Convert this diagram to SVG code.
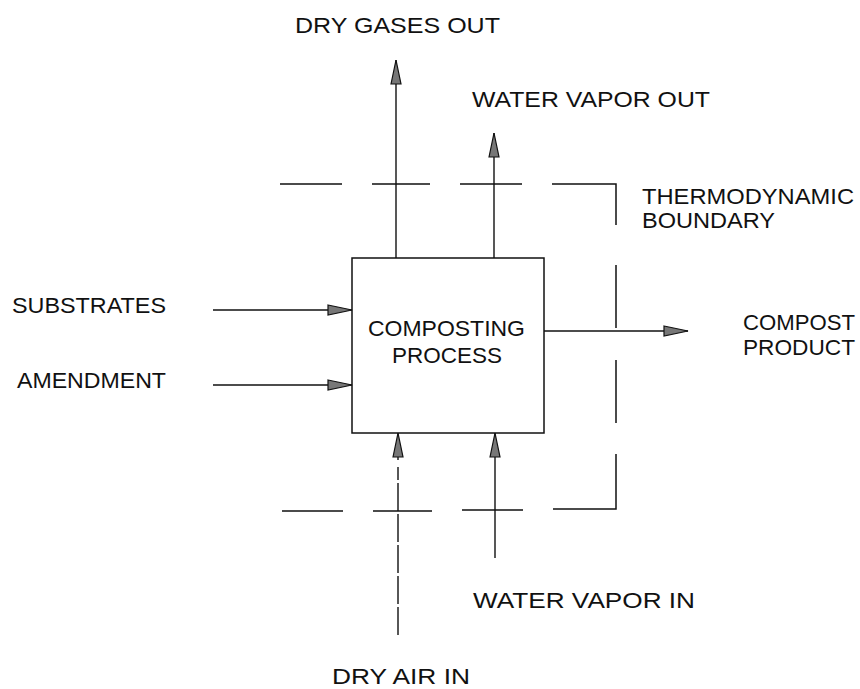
<svg xmlns="http://www.w3.org/2000/svg" width="860" height="689" viewBox="0 0 860 689">
<style>
text{font-family:"Liberation Sans",Arial,sans-serif;font-size:22px;fill:#111;}
.ln{stroke:#111;stroke-width:1.4;fill:none;}
.bd{stroke:#111;stroke-width:1.5;fill:none;}
</style>
<defs>
<marker id="ah" markerUnits="userSpaceOnUse" markerWidth="26" markerHeight="12" refX="25" refY="6" orient="auto" viewBox="0 0 26 12">
<path d="M1,1 L25,6 L1,11 Z" fill="#777" stroke="#111" stroke-width="1.2"/>
</marker>
</defs>
<rect width="860" height="689" fill="#fff"/>

<g id="boundary">
<path class="bd" d="M280,184 H342 M372,184 H430 M460,184 H522 M552,184 H616 V225"/>
<path class="bd" d="M616,265 V328 M616,360 V423 M616,454 V509 H553"/>
<path class="bd" d="M282,511 H343 M373,511 H432 M462,510 H523"/>
<text x="642" y="204" textLength="212" lengthAdjust="spacingAndGlyphs">THERMODYNAMIC</text>
<text x="642" y="228" textLength="133" lengthAdjust="spacingAndGlyphs">BOUNDARY</text>
</g>

<g id="process">
<rect x="352" y="258" width="192" height="175" class="bd"/>
<text x="368" y="336" textLength="157" lengthAdjust="spacingAndGlyphs">COMPOSTING</text>
<text x="392" y="363" textLength="110" lengthAdjust="spacingAndGlyphs">PROCESS</text>
</g>

<g id="substrates"><text x="12" y="313" textLength="154" lengthAdjust="spacingAndGlyphs">SUBSTRATES</text></g>
<g id="amendment"><text x="17" y="388" textLength="149" lengthAdjust="spacingAndGlyphs">AMENDMENT</text></g>
<g id="dry-gases-out"><text x="295" y="33" textLength="205" lengthAdjust="spacingAndGlyphs">DRY GASES OUT</text></g>
<g id="water-vapor-out"><text x="472" y="107" textLength="238" lengthAdjust="spacingAndGlyphs">WATER VAPOR OUT</text></g>
<g id="compost-product">
<text x="743" y="330" textLength="112" lengthAdjust="spacingAndGlyphs">COMPOST</text>
<text x="743" y="355" textLength="112" lengthAdjust="spacingAndGlyphs">PRODUCT</text>
</g>
<g id="water-vapor-in"><text x="473" y="608" textLength="222" lengthAdjust="spacingAndGlyphs">WATER VAPOR IN</text></g>
<g id="dry-air-in"><text x="332" y="684" textLength="138" lengthAdjust="spacingAndGlyphs">DRY AIR IN</text></g>

<g id="connectors">
<line class="ln" x1="396" y1="258" x2="396" y2="60" marker-end="url(#ah)"/>
<line class="ln" x1="494" y1="258" x2="494" y2="133" marker-end="url(#ah)"/>
<line class="ln" x1="213" y1="310" x2="352" y2="310" marker-end="url(#ah)"/>
<line class="ln" x1="213" y1="385" x2="352" y2="385" marker-end="url(#ah)"/>
<line class="ln" x1="544" y1="331" x2="688" y2="331" marker-end="url(#ah)"/>
<line class="ln" x1="495" y1="558" x2="495" y2="433" marker-end="url(#ah)"/>
<line class="ln" x1="398" y1="460" x2="398" y2="433" marker-end="url(#ah)"/>
<line class="ln" x1="398" y1="635" x2="398" y2="467" stroke-dasharray="28 3"/>
</g>
</svg>
